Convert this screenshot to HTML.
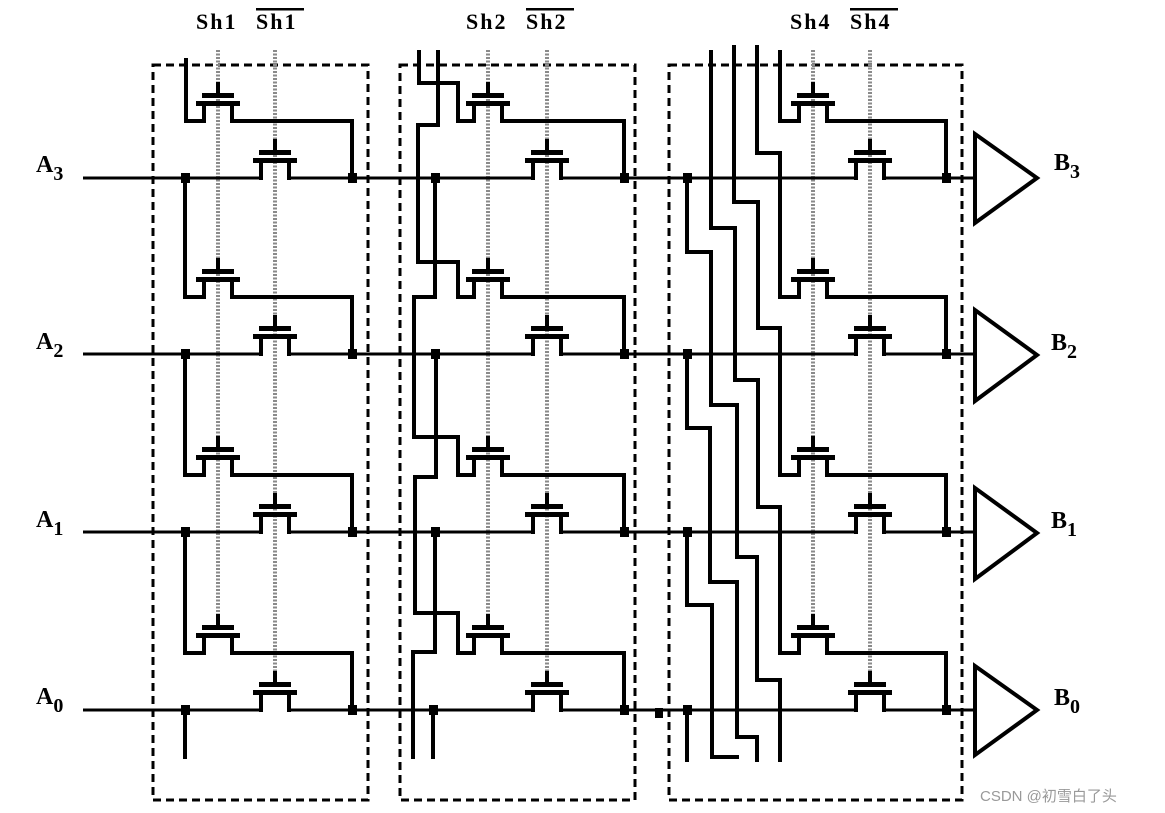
<!DOCTYPE html>
<html><head><meta charset="utf-8"><style>
html,body{margin:0;padding:0;background:#fff;}
svg{display:block;}
.lbl{font-family:"Liberation Serif",serif;font-weight:bold;fill:#000;}
</style></head><body>
<svg width="1165" height="813" viewBox="0 0 1165 813" xmlns="http://www.w3.org/2000/svg">
<defs>
<g id="t">
<rect x="-16" y="-28" width="32" height="5" fill="#000"/>
<rect x="-22" y="-20" width="44" height="5" fill="#000"/>
<rect x="-16" y="-18" width="4" height="20" fill="#000"/>
<rect x="12" y="-18" width="4" height="20" fill="#000"/>
<rect x="-2" y="-39" width="4" height="12" fill="#000"/>
</g>
<g id="row" stroke="#000" stroke-width="3">
<line x1="83" y1="0" x2="261" y2="0"/>
<line x1="289" y1="0" x2="533" y2="0"/>
<line x1="561" y1="0" x2="856" y2="0"/>
<line x1="884" y1="0" x2="975" y2="0"/>
</g>
</defs>

<!-- Titles -->
<g class="lbl" font-size="22" letter-spacing="2">
<text x="196" y="29">Sh1</text>
<text x="256" y="29">Sh1</text>
<text x="466" y="29">Sh2</text>
<text x="526" y="29">Sh2</text>
<text x="790" y="29">Sh4</text>
<text x="850" y="29">Sh4</text>
</g>
<rect x="256" y="8" width="48" height="2.5" fill="#000"/>
<rect x="526" y="8" width="48" height="2.5" fill="#000"/>
<rect x="850" y="8" width="48" height="2.5" fill="#000"/>

<!-- A labels -->
<g class="lbl" font-size="24">
<text x="36" y="172">A<tspan font-size="20" dy="8">3</tspan></text>
<text x="36" y="349">A<tspan font-size="20" dy="8">2</tspan></text>
<text x="36" y="527">A<tspan font-size="20" dy="8">1</tspan></text>
<text x="36" y="704">A<tspan font-size="20" dy="8">0</tspan></text>
<text x="1054" y="170">B<tspan font-size="20" dy="8">3</tspan></text>
<text x="1051" y="350">B<tspan font-size="20" dy="8">2</tspan></text>
<text x="1051" y="528">B<tspan font-size="20" dy="8">1</tspan></text>
<text x="1054" y="705">B<tspan font-size="20" dy="8">0</tspan></text>
</g>

<!-- dashed boxes -->
<g fill="none" stroke="#000" stroke-width="3" stroke-dasharray="8,5">
<rect x="153" y="65" width="215" height="735"/>
<rect x="400" y="65" width="235" height="735"/>
<rect x="669" y="65" width="293" height="735"/>
</g>

<!-- gate dotted lines -->
<g stroke="#8a8a8a" stroke-width="4" stroke-dasharray="2,1.5">
<line x1="218" y1="50" x2="218" y2="616"/>
<line x1="275" y1="50" x2="275" y2="672"/>
<line x1="488" y1="50" x2="488" y2="616"/>
<line x1="547" y1="50" x2="547" y2="672"/>
<line x1="813" y1="50" x2="813" y2="616"/>
<line x1="870" y1="50" x2="870" y2="672"/>
</g>

<use href="#row" transform="translate(0,178)"/>
<use href="#row" transform="translate(0,354)"/>
<use href="#row" transform="translate(0,532)"/>
<use href="#row" transform="translate(0,710)"/>

<!-- transistors -->
<g>
<use href="#t" x="218" y="121"/><use href="#t" x="275" y="178"/>
<use href="#t" x="218" y="297"/><use href="#t" x="275" y="354"/>
<use href="#t" x="218" y="475"/><use href="#t" x="275" y="532"/>
<use href="#t" x="218" y="653"/><use href="#t" x="275" y="710"/>
<use href="#t" x="488" y="121"/><use href="#t" x="547" y="178"/>
<use href="#t" x="488" y="297"/><use href="#t" x="547" y="354"/>
<use href="#t" x="488" y="475"/><use href="#t" x="547" y="532"/>
<use href="#t" x="488" y="653"/><use href="#t" x="547" y="710"/>
<use href="#t" x="813" y="121"/><use href="#t" x="870" y="178"/>
<use href="#t" x="813" y="297"/><use href="#t" x="870" y="354"/>
<use href="#t" x="813" y="475"/><use href="#t" x="870" y="532"/>
<use href="#t" x="813" y="653"/><use href="#t" x="870" y="710"/>
</g>

<g fill="none" stroke="#000" stroke-width="4" stroke-linejoin="miter" stroke-linecap="square">
<polyline points="232,121 352,121 352,178"/>
<polyline points="232,297 352,297 352,354"/>
<polyline points="232,475 352,475 352,532"/>
<polyline points="232,653 352,653 352,710"/>
<polyline points="502,121 624,121 624,178"/>
<polyline points="502,297 624,297 624,354"/>
<polyline points="502,475 624,475 624,532"/>
<polyline points="502,653 624,653 624,710"/>
<polyline points="827,121 946,121 946,178"/>
<polyline points="827,297 946,297 946,354"/>
<polyline points="827,475 946,475 946,532"/>
<polyline points="827,653 946,653 946,710"/>

<polyline points="186,60 186,121 204,121"/>
<polyline points="185,178 185,297 204,297"/>
<polyline points="185,354 185,475 204,475"/>
<polyline points="185,532 185,653 204,653"/>
<polyline points="185,710 185,757"/>

<polyline points="419,52 419,83 458,83 458,121 474,121"/>
<polyline points="438,52 438,125 418,125 418,262 458,262 458,297 474,297"/>
<polyline points="435,178 435,297 414,297 414,437 458,437 458,475 474,475"/>
<polyline points="436,354 436,477 415,477 415,613 458,613 458,653 474,653"/>
<polyline points="435,532 435,652 413,652 413,757"/>
<polyline points="433,710 433,757"/>

<polyline points="711,52 711,228 735,228 735,380 758,380 758,507 780,507 780,653 799,653"/>
<polyline points="734,47 734,202 758,202 758,328 780,328 780,475 799,475"/>
<polyline points="757,47 757,153 780,153 780,297 799,297"/>
<polyline points="780,52 780,121 799,121"/>
<polyline points="687,178 687,252 711,252 711,405 737,405 737,557 757,557 757,680 780,680 780,760"/>
<polyline points="687,354 687,428 710,428 710,582 737,582 737,737 757,737 757,760"/>
<polyline points="687,532 687,605 712,605 712,757 737,757"/>
<polyline points="687,710 687,760"/>

<polygon points="975,134 975,223 1037,178"/>
<polygon points="975,310 975,401 1037,355"/>
<polygon points="975,488 975,579 1037,533"/>
<polygon points="975,666 975,755 1037,710"/>
</g>

<g fill="#000">
<rect x="181" y="173" width="9" height="10"/><rect x="348" y="173" width="9" height="10"/>
<rect x="181" y="349" width="9" height="10"/><rect x="348" y="349" width="9" height="10"/>
<rect x="181" y="527" width="9" height="10"/><rect x="348" y="527" width="9" height="10"/>
<rect x="181" y="705" width="9" height="10"/><rect x="348" y="705" width="9" height="10"/>
<rect x="431" y="173" width="9" height="10"/><rect x="620" y="173" width="9" height="10"/>
<rect x="431" y="349" width="9" height="10"/><rect x="620" y="349" width="9" height="10"/>
<rect x="431" y="527" width="9" height="10"/><rect x="620" y="527" width="9" height="10"/>
<rect x="429" y="705" width="9" height="10"/><rect x="620" y="705" width="9" height="10"/>
<rect x="683" y="173" width="9" height="10"/><rect x="942" y="173" width="9" height="10"/>
<rect x="683" y="349" width="9" height="10"/><rect x="942" y="349" width="9" height="10"/>
<rect x="683" y="527" width="9" height="10"/><rect x="942" y="527" width="9" height="10"/>
<rect x="683" y="705" width="9" height="10"/><rect x="942" y="705" width="9" height="10"/>
<rect x="655" y="708" width="8" height="10"/>
</g>

<text x="980" y="801" font-family="Liberation Sans, 'Noto Sans CJK SC', sans-serif" font-size="15" fill="#999">CSDN @初雪白了头</text>
</svg>
</body></html>
